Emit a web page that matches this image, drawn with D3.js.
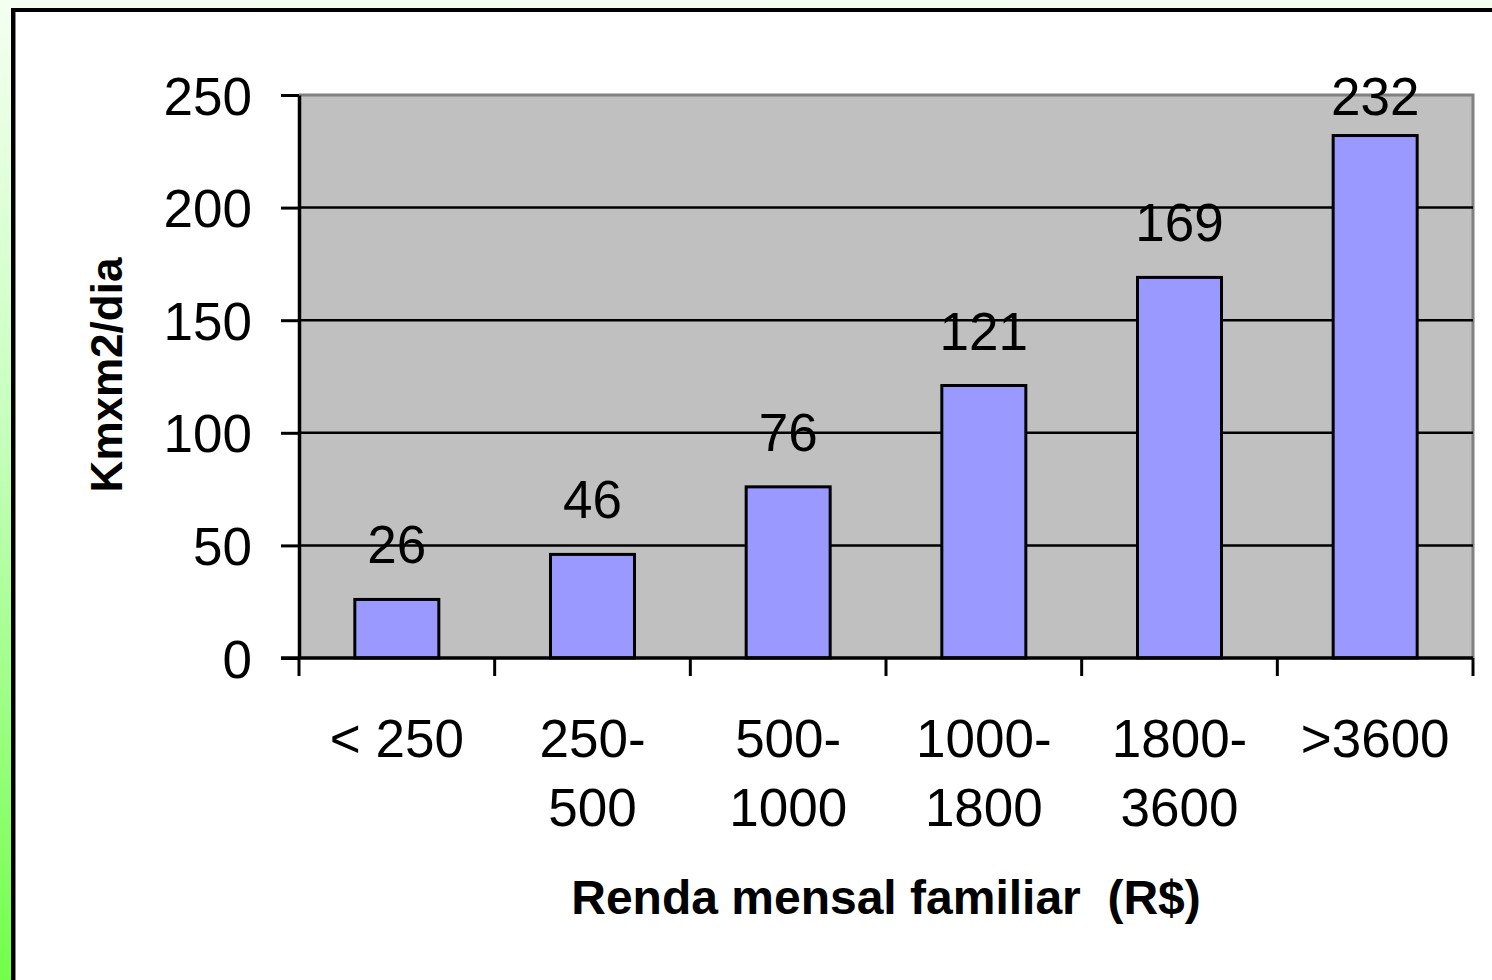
<!DOCTYPE html>
<html>
<head>
<meta charset="utf-8">
<script src="https://cdn.jsdelivr.net/npm/d3@7"></script>
<style>
html,body{margin:0;padding:0;overflow:hidden;}
svg{display:block;}
text{font-family:"Liberation Sans",Arial,sans-serif;}
</style>
</head>
<body>
<svg id="chart" width="1492" height="980"></svg>
<script>
// ---- data ----
const categories = ["< 250", "250-500", "500-1000", "1000-1800", "1800-3600", ">3600"];
const categoryLines = [["< 250"], ["250-", "500"], ["500-", "1000"], ["1000-", "1800"], ["1800-", "3600"], [">3600"]];
const values = [26, 46, 76, 121, 169, 232];
const yTicks = [0, 50, 100, 150, 200, 250];
const yTitle = "Kmxm2/dia";
const xTitle = "Renda mensal familiar  (R$)";

const W = 1492, H = 980;
const plot = {left: 299, right: 1473, top: 95, bottom: 658};

const svg = d3.select("#chart");
const defs = svg.append("defs");
const grad = defs.append("linearGradient").attr("id", "bg").attr("x1", 0).attr("y1", 0).attr("x2", 0).attr("y2", 1);
grad.append("stop").attr("offset", "0%").attr("stop-color", "#f4fff0");
grad.append("stop").attr("offset", "45%").attr("stop-color", "#c6ffbc");
grad.append("stop").attr("offset", "100%").attr("stop-color", "#72ff4a");
svg.append("rect").attr("width", W).attr("height", H).attr("fill", "url(#bg)");

// white slide frame
svg.append("rect").attr("x", 13).attr("y", 10).attr("width", W + 50).attr("height", H + 50)
  .attr("fill", "#ffffff").attr("stroke", "#000").attr("stroke-width", 4);
svg.append("line").attr("x1", 15.5).attr("x2", 15.5).attr("y1", 12).attr("y2", H)
  .attr("stroke", "#888").attr("stroke-width", 1);

const x = d3.scaleBand().domain(categories).range([plot.left, plot.right]).paddingInner(0).paddingOuter(0);
const xb = d3.scaleLinear().domain([0, categories.length]).range([plot.left, plot.right]);
const y = d3.scaleLinear().domain([0, 250]).range([plot.bottom, plot.top]);

// plot area
svg.append("rect").attr("x", plot.left).attr("y", plot.top)
  .attr("width", plot.right - plot.left).attr("height", plot.bottom - plot.top)
  .attr("fill", "#c0c0c0");
svg.append("path")
  .attr("d", `M${plot.left},${plot.top}H${plot.right}V${plot.bottom}`)
  .attr("fill", "none").attr("stroke", "#808080").attr("stroke-width", 3);

// gridlines
svg.append("g").selectAll("line").data(yTicks.filter(d => d > 0 && d < 250)).join("line")
  .attr("x1", plot.left).attr("x2", plot.right)
  .attr("y1", d => y(d)).attr("y2", d => y(d))
  .attr("stroke", "#000").attr("stroke-width", 2.5);

// bars
const bw = 84;
svg.append("g").selectAll("rect").data(values).join("rect")
  .attr("x", (d, i) => x(categories[i]) + (x.bandwidth() - bw) / 2)
  .attr("y", d => y(d))
  .attr("width", bw)
  .attr("height", d => y(0) - y(d))
  .attr("fill", "#9999ff").attr("stroke", "#000").attr("stroke-width", 3);

// y axis
const yAxis = svg.append("g").attr("transform", `translate(${plot.left},0)`)
  .call(d3.axisLeft(y).tickValues(yTicks).tickSize(18).tickSizeOuter(0).tickPadding(29));
yAxis.select(".domain").attr("stroke", "#000").attr("stroke-width", 3.5);
yAxis.selectAll(".tick line").attr("stroke", "#000").attr("stroke-width", 3);
yAxis.selectAll(".tick text").attr("font-size", 53).attr("fill", "#000").attr("dy", "0.36em")
  .style("font-family", "'Liberation Sans', Arial, sans-serif");

// x axis line + ticks at boundaries
svg.append("line").attr("x1", plot.left - 18).attr("x2", plot.right)
  .attr("y1", plot.bottom).attr("y2", plot.bottom)
  .attr("stroke", "#000").attr("stroke-width", 3.5);
svg.append("g").selectAll("line").data(d3.range(categories.length + 1)).join("line")
  .attr("x1", d => xb(d)).attr("x2", d => xb(d))
  .attr("y1", plot.bottom).attr("y2", plot.bottom + 18)
  .attr("stroke", "#000").attr("stroke-width", 3);

// x category labels
const xl = svg.append("g").selectAll("text").data(categoryLines).join("text")
  .attr("text-anchor", "middle").attr("font-size", 53).attr("fill", "#000")
  .attr("x", (d, i) => x(categories[i]) + x.bandwidth() / 2)
  .attr("y", 757);
xl.selectAll("tspan").data(d => d).join("tspan")
  .attr("x", function() { return d3.select(this.parentNode).attr("x"); })
  .attr("dy", (d, i) => i === 0 ? 0 : 69)
  .text(d => d);

// data labels
svg.append("g").selectAll("text").data(values).join("text")
  .attr("text-anchor", "middle").attr("font-size", 53).attr("fill", "#000")
  .attr("x", (d, i) => x(categories[i]) + x.bandwidth() / 2)
  .attr("y", d => Math.max(y(d) - 36, y(250) + 20))
  .text(d => d);

// titles
svg.append("text").attr("text-anchor", "middle").attr("font-size", 44).attr("font-weight", "bold")
  .attr("transform", `translate(122,375) rotate(-90)`).text(yTitle);
svg.append("text").attr("text-anchor", "middle").attr("font-size", 48).attr("font-weight", "bold")
  .attr("xml:space", "preserve").style("white-space", "pre")
  .attr("x", (plot.left + plot.right) / 2).attr("y", 914).text(xTitle);
</script>
</body>
</html>
